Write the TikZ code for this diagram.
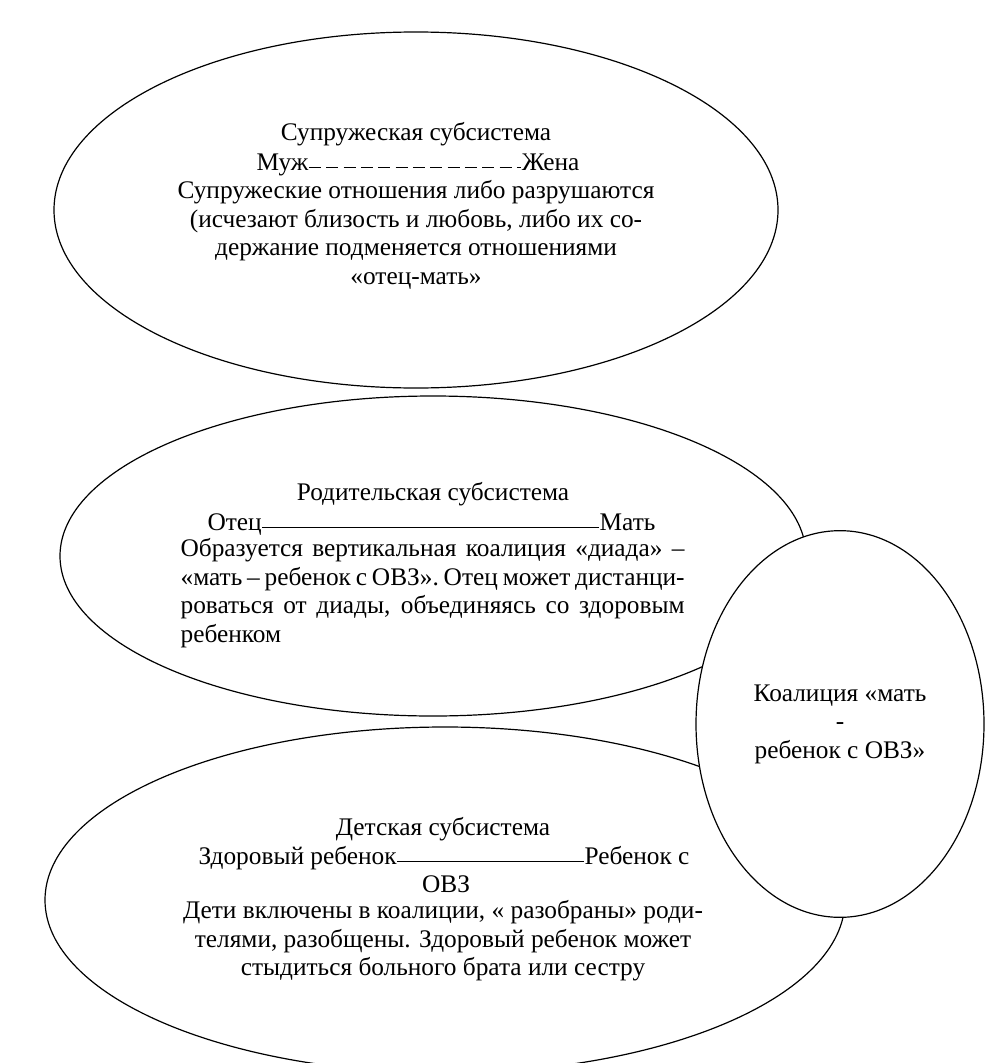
\documentclass[tikz,border=0pt]{standalone}
\usepackage{fontspec}
\setmainfont{Liberation Serif}
\usetikzlibrary{shapes.geometric}

\tikzset{every picture/.style={line width=0.9pt}}
\tikzset{
  subsys/.style={draw, ellipse, inner sep=0pt},
  txt/.style={inner sep=0pt, font=\fontsize{19}{21.4}\selectfont},
  blk/.style={txt, align=center},
}

\begin{document}
\begin{tikzpicture}[x=0.75pt,y=0.75pt,yscale=-1]
\useasboundingbox (0,0) rectangle (1004,1063);

%Shape: Ellipse [spouse]
\node[subsys, minimum width=543pt, minimum height=267pt] (spouse) at (416,210) {};
%Shape: Ellipse [parent]
\node[subsys, minimum width=559.5pt, minimum height=240pt] (parent) at (433,556) {};
%Shape: Ellipse [child]
\node[subsys, minimum width=600pt, minimum height=259.5pt] (child) at (445,900) {};
%Shape: Ellipse [coalition], drawn last so it hides the others
\node[subsys, fill=white, minimum width=216pt, minimum height=290pt] (coalition) at (840,724) {};

% Text Node
\node[txt, anchor=base] (spousetitle) at (416,140) {Супружеская субсистема};
% Text Node
\node[txt, anchor=base west] (husband) at (256,170) {Муж};
% Text Node
\node[txt, anchor=base east] (wife) at (580,170) {Жена};
\draw[dash pattern=on 9pt off 4pt] ([yshift=-2pt]husband.base east) -- ([yshift=-2pt]wife.base west);
% Text Node
\node[blk] (spousetext) at (416,235) {Супружеские отношения либо разрушаются\\(исчезают близость и любовь, либо их со-\\держание подменяется отношениями\\«отец-мать»};

% Text Node
\node[txt, anchor=base] (parenttitle) at (433,500) {Родительская субсистема};
% Text Node
\node[txt, anchor=base west] (father) at (207,530) {Отец};
% Text Node
\node[txt, anchor=base east] (mother) at (656,530) {Мать};
\draw ([yshift=-2pt]father.base east) -- ([yshift=-2pt]mother.base west);
% Text Node
\node[txt, align=left, anchor=west] (parenttext) at (180,593) {\makebox[378pt][s]{Образуется вертикальная коалиция «диада» –}\\\makebox[378pt][s]{«мать – ребенок с ОВЗ». Отец может дистанци-}\\\makebox[378pt][s]{роваться от диады, объединяясь со здоровым}\\ребенком};

% Text Node
\node[blk] (coalitiontext) at (coalition) {Коалиция «мать\\-\\ребенок с ОВЗ»};

% Text Node
\node[txt, anchor=base] (childtitle) at (443,835) {Детская субсистема};
% Text Node
\node[txt, anchor=base west] (healthy) at (198,864) {Здоровый ребенок};
% Text Node
\node[txt, anchor=base east] (special) at (690,864) {Ребенок с};
\draw ([yshift=-2pt]healthy.base east) -- ([yshift=-2pt]special.base west);
% Text Node
\node[txt, anchor=base] (specialcont) at (446,892) {ОВЗ};
% Text Node
\node[blk] (childtext) at (443,941) {Дети включены в коалиции, « разобраны» роди-\\телями, разобщены. Здоровый ребенок может\\стыдиться больного брата или сестру};

\end{tikzpicture}
\end{document}
